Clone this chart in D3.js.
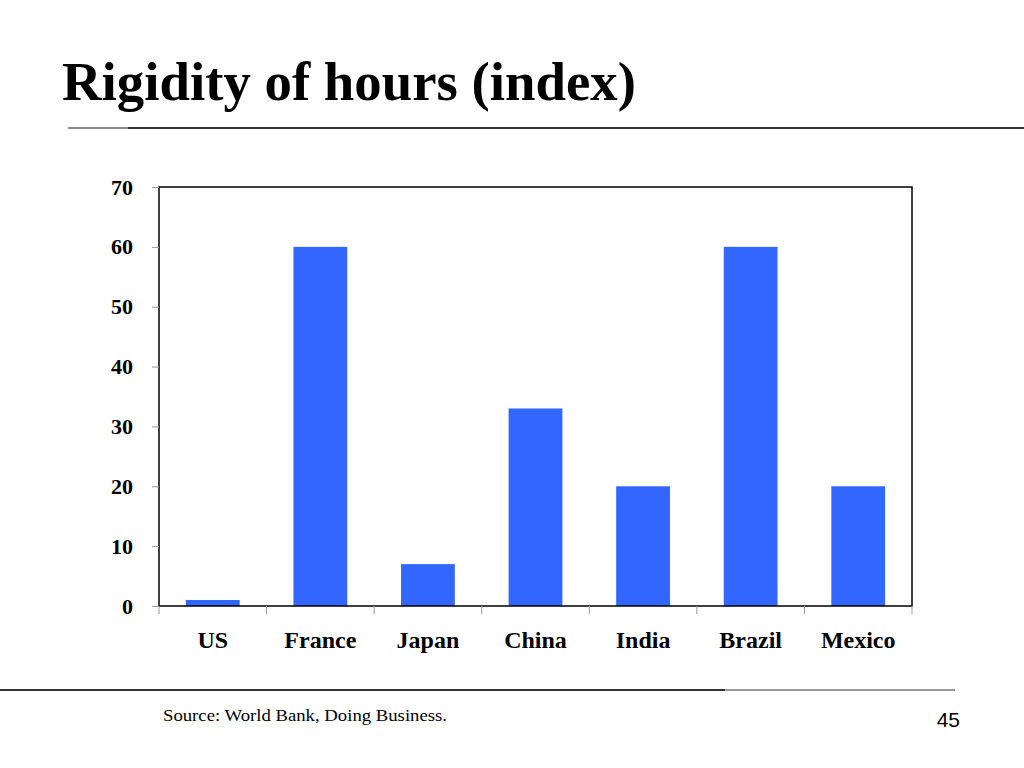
<!DOCTYPE html>
<html><head><meta charset="utf-8">
<script src="https://cdn.jsdelivr.net/npm/d3@7/dist/d3.min.js"></script>
<style>body{margin:0;background:#fff}svg{display:block}</style>
</head><body>
<svg id="c" width="1024" height="768"></svg>
<script>
const categories = ["US","France","Japan","China","India","Brazil","Mexico"];
const values = [1,60,7,33,20,60,20];
const yTicks = [0,10,20,30,40,50,60,70];
const titleText = "Rigidity of hours (index)";
const sourceText = "Source:  World Bank, Doing Business.";
const pageNum = "45";

const svg = d3.select("#c");
const serif = "'Liberation Serif','Times New Roman',serif";
const L=159, R=912, T=187, B=606;

svg.append("text").attr("x",62).attr("y",100).attr("font-family",serif)
  .attr("font-weight","bold").attr("font-size",54).attr("fill","#000")
  .attr("textLength",574).attr("lengthAdjust","spacingAndGlyphs").text(titleText);

svg.append("line").attr("x1",68).attr("x2",128).attr("y1",128).attr("y2",128).attr("stroke","#888").attr("stroke-width",2);
svg.append("line").attr("x1",128).attr("x2",1024).attr("y1",128).attr("y2",128).attr("stroke","#333").attr("stroke-width",2);
svg.append("line").attr("x1",0).attr("x2",725).attr("y1",690).attr("y2",690).attr("stroke","#333").attr("stroke-width",2);
svg.append("line").attr("x1",725).attr("x2",955).attr("y1",690).attr("y2",690).attr("stroke","#999").attr("stroke-width",2);

const x = d3.scaleBand().domain(categories).range([L,R]).paddingInner(0.5).paddingOuter(0.25);
const y = d3.scaleLinear().domain([0,70]).range([B,T]);

svg.append("g").selectAll("rect").data(categories).join("rect")
  .attr("x",d=>x(d)).attr("width",x.bandwidth())
  .attr("y",(d,i)=>y(values[i])).attr("height",(d,i)=>B-y(values[i]))
  .attr("fill","#3366FF");

svg.append("rect").attr("x",L).attr("y",T).attr("width",R-L).attr("height",B-T)
  .attr("fill","none").attr("stroke","#000").attr("stroke-width",1.5);

const ya = svg.append("g").attr("transform",`translate(${L},0)`)
  .call(d3.axisLeft(y).tickValues(yTicks).tickSize(7).tickPadding(19));
ya.select(".domain").remove();
ya.selectAll("line").attr("stroke","#999");
ya.selectAll("text").attr("font-family",serif).attr("font-weight","bold").attr("font-size",22).attr("fill","#000");

const bounds = d3.range(categories.length+1).map(i=>L + i*(R-L)/categories.length);
svg.append("g").selectAll("line").data(bounds).join("line")
  .attr("x1",d=>d).attr("x2",d=>d).attr("y1",B).attr("y2",B+8).attr("stroke","#999");
svg.append("g").selectAll("text").data(categories).join("text")
  .attr("x",d=>x(d)+x.bandwidth()/2).attr("y",648).attr("text-anchor","middle")
  .attr("font-family",serif).attr("font-weight","bold").attr("font-size",24).attr("fill","#000").text(d=>d);

svg.append("text").attr("x",163).attr("y",721).attr("font-family",serif).attr("font-size",17).attr("fill","#000")
  .attr("textLength",284).attr("lengthAdjust","spacingAndGlyphs").text(sourceText);
svg.append("text").attr("x",960).attr("y",727).attr("text-anchor","end").attr("font-family","'Liberation Sans',Arial,sans-serif").attr("font-size",21).attr("fill","#000").text(pageNum);
</script>
</body></html>
